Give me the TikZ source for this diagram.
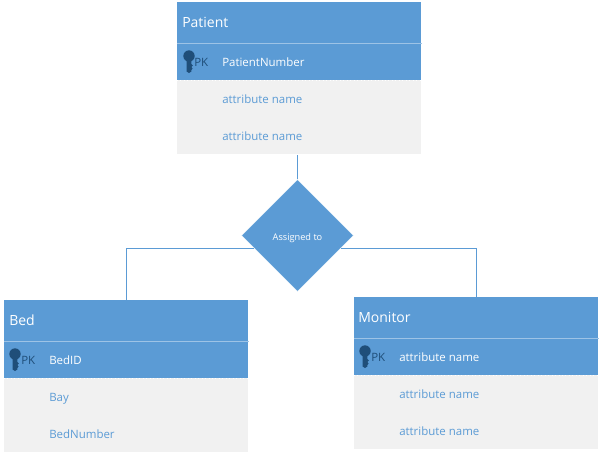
\documentclass[tikz,border=0pt]{standalone}
\usepackage{fontspec}
\setmainfont{Open Sans}
\usetikzlibrary{shapes.geometric}
\definecolor{headblue}{HTML}{5B9BD5}
\definecolor{rowgrey}{HTML}{F1F1F1}
\definecolor{keyblue}{HTML}{1F4E79}
\definecolor{sepblue}{HTML}{9DC3E6}
\tikzset{
  headbox/.style={fill=headblue,minimum width=183pt,minimum height=30.75pt,inner sep=0pt,anchor=north west},
  keybox/.style={fill=headblue,minimum width=183pt,minimum height=27.75pt,inner sep=0pt,anchor=north west},
  restbox/.style={fill=rowgrey,minimum width=183pt,minimum height=55.5pt,inner sep=0pt,anchor=north west},
  titletext/.style={anchor=west,inner sep=0pt,text=white,font=\fontsize{10.5pt}{12pt}\selectfont},
  keytext/.style={anchor=west,inner sep=0pt,text height=6.5pt,text depth=0pt,text=white,font=\fontsize{8.6pt}{10pt}\selectfont},
  attrtext/.style={anchor=west,inner sep=0pt,text height=6.5pt,text depth=0pt,text=headblue,font=\fontsize{8.6pt}{10pt}\selectfont},
  pktext/.style={anchor=west,inner sep=0pt,text height=6.5pt,text depth=0pt,text=keyblue,font=\fontsize{8.6pt}{10pt}\selectfont},
  reltext/.style={shape=diamond,aspect=1,fill=headblue,draw=white,line width=0.3pt,inner sep=0pt,minimum width=84pt,minimum height=84pt,text=white,font=\fontsize{6.9pt}{8pt}\selectfont},
  link/.style={draw=headblue,line width=0.75pt},
  sepline/.style={draw=sepblue,line width=0.75pt},
  dotline/.style={draw=white,line width=0.6pt,dotted},
  keyicon/.pic={
    \fill[keyblue] (0,-5) circle (5.7);
    \fill[keyblue] (-2.4,-2) -- (2.4,-2) -- (2.4,3) -- (3.8,4.5) -- (2.4,6) -- (3.6,7.5) -- (2.4,9) -- (2.4,10.5) -- (0,12) -- (-2.4,10.5) -- cycle;
  },
}
\begin{document}
\begin{tikzpicture}[x=0.75pt,y=-0.75pt]
  \useasboundingbox (0,0) rectangle (600,454);

  % header boxes and the diamond
  \node[headbox] (pathead) at (177,2) {};
  \node[headbox] (bedhead) at (4,300) {};
  \node[headbox] (monhead) at (354,297) {};
  \node[reltext] (assigned) at (297.5,235.5) {\smash{\raisebox{-3.4pt}{Assigned to}}};

  % Patient
  \node[keybox] (patkey) at (177,43) {};
  \node[restbox] (patrest) at (177,80) {};
  \draw[sepline] (patkey.north west) -- (patkey.north east);
  \draw[dotline] (patkey.south west) -- (patkey.south east);
  \node[titletext] (pattitle) at (182,22) {Patient};
  \pic at (189,61) {keyicon};
  \node[pktext] (patpk) at (194,62) {PK};
  \node[keytext] (patnum) at (222,62) {PatientNumber};
  \node[attrtext] (pata) at (222,99) {attribute name};
  \node[attrtext] (patb) at (222,136) {attribute name};

  % Bed
  \node[keybox] (bedkey) at (4,341) {};
  \node[restbox] (bedrest) at (4,378) {};
  \draw[sepline] (bedkey.north west) -- (bedkey.north east);
  \draw[dotline] (bedkey.south west) -- (bedkey.south east);
  \node[titletext] (bedtitle) at (9,320) {Bed};
  \pic at (15,359) {keyicon};
  \node[pktext] (bedpk) at (21,360) {PK};
  \node[keytext] (bedid) at (49,360) {BedID};
  \node[attrtext] (bedbay) at (49,397) {Bay};
  \node[attrtext] (bednum) at (49,434) {BedNumber};

  % Monitor
  \node[keybox] (monkey) at (354,338) {};
  \node[restbox] (monrest) at (354,375) {};
  \draw[sepline] (monkey.north west) -- (monkey.north east);
  \draw[dotline] (monkey.south west) -- (monkey.south east);
  \node[titletext] (montitle) at (358,317) {Monitor};
  \pic at (365,356) {keyicon};
  \node[pktext] (monpk) at (371,357) {PK};
  \node[keytext] (mona) at (399,357) {attribute name};
  \node[attrtext] (monb) at (399,394) {attribute name};
  \node[attrtext] (monc) at (399,431) {attribute name};

  % connectors
  \draw[link] (assigned.north) -- (assigned.north |- patrest.south);
  \draw[link] (assigned.196) -| (bedhead.north);
  \draw[link] (assigned.344) -| (monhead.north);
\end{tikzpicture}
\end{document}
